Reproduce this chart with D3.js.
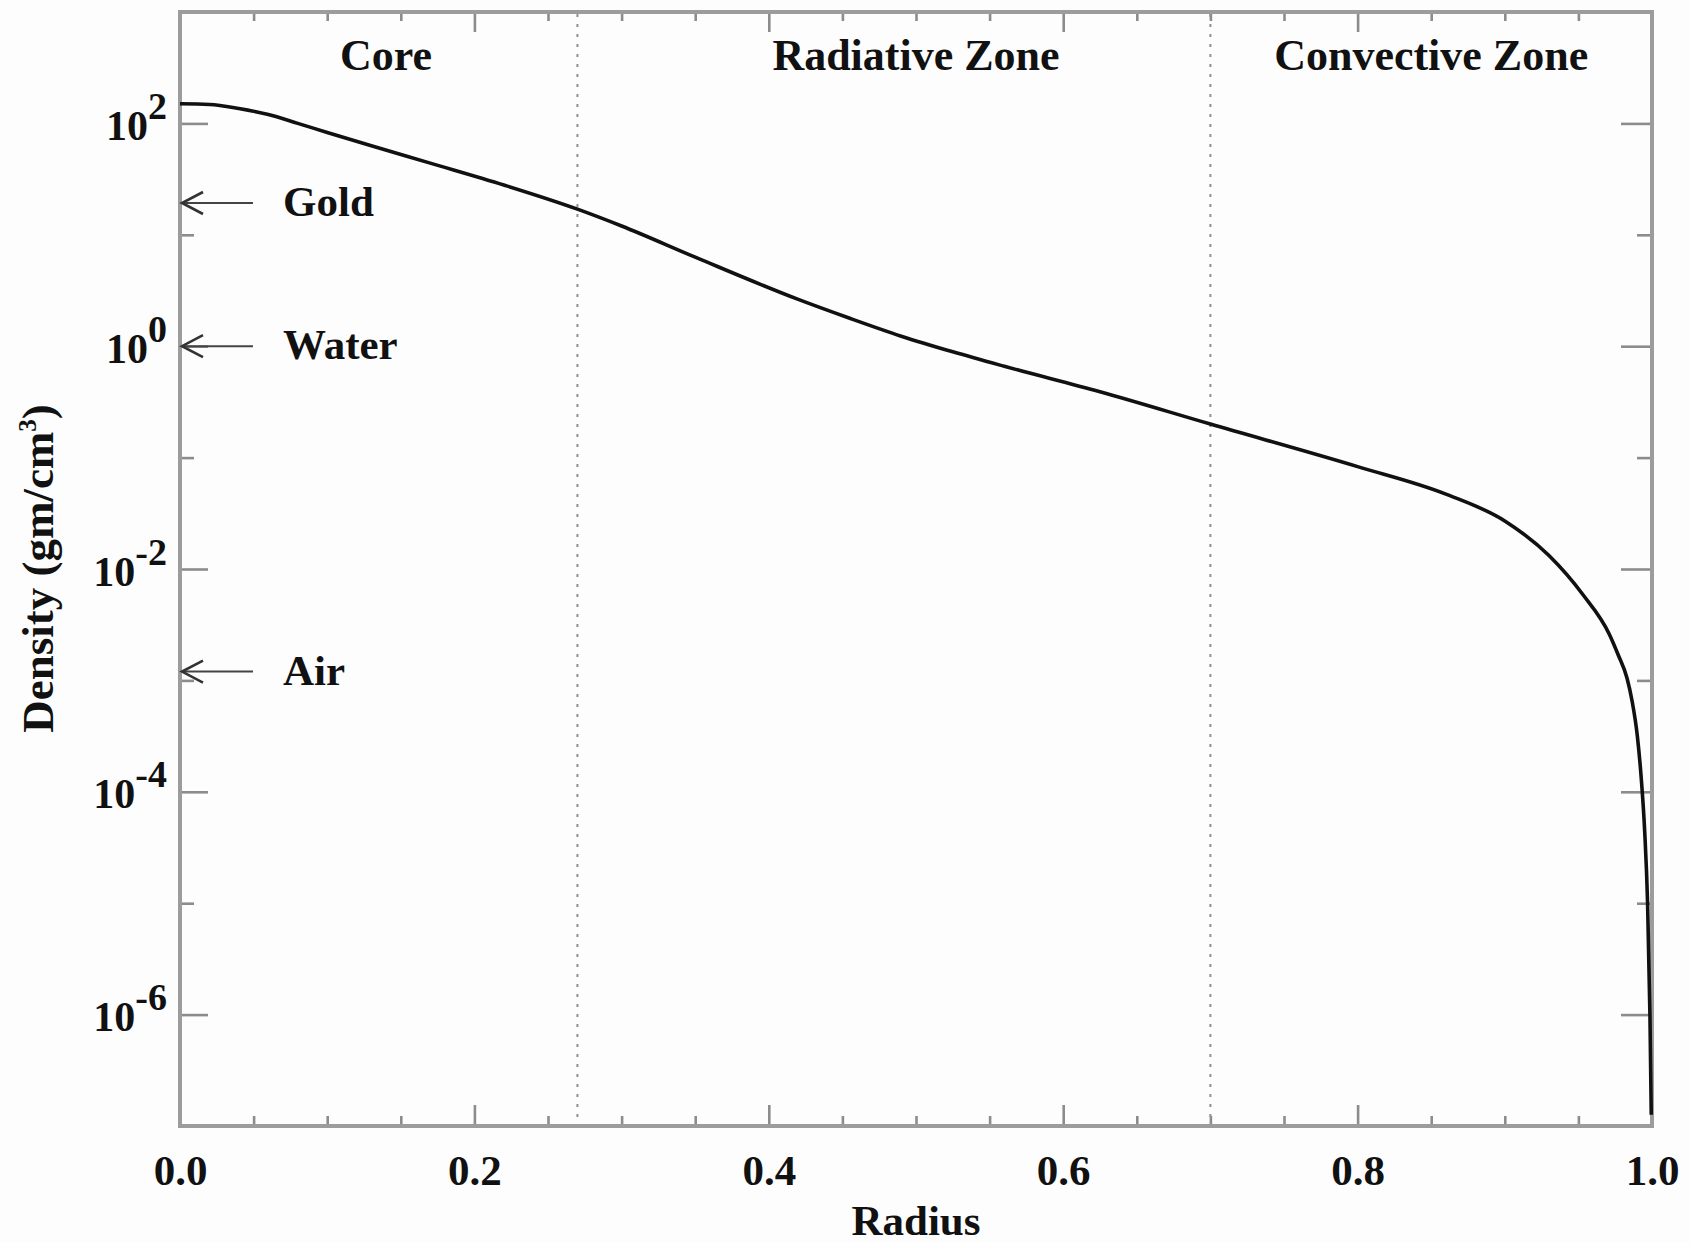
<!DOCTYPE html>
<html>
<head>
<meta charset="utf-8">
<script src="https://cdn.jsdelivr.net/npm/d3@7"></script>
<style>
  html, body { margin: 0; padding: 0; background: #fdfdfd; }
  svg { display: block; }
  text { font-family: "Liberation Serif", "Times New Roman", serif; font-weight: bold; fill: #111; }
</style>
</head>
<body>
<script>
// ---- data ----
const radius = [0, 0.02, 0.04, 0.06, 0.08, 0.10, 0.13, 0.17, 0.22, 0.27, 0.30, 0.35, 0.42, 0.455, 0.49, 0.525, 0.56, 0.625,
                0.70, 0.80, 0.86, 0.90, 0.93, 0.953, 0.971, 0.977, 0.983, 0.9865, 0.990, 0.993, 0.995, 0.997, 0.9986, 0.9995];
const density = [150, 148, 136, 120, 100, 83, 63, 44, 28, 17, 12, 6.3, 2.63, 1.78, 1.23, 0.89, 0.66, 0.39,
                 0.20, 0.083, 0.047, 0.027, 0.0132, 0.0059, 0.0026, 0.0017, 0.00105, 6.5e-4, 3.2e-4, 1.17e-4, 4.5e-5, 1.0e-5, 1.0e-6, 1.26e-7];
const zoneBoundaries = [0.27, 0.70];
const zoneNames = ["Core", "Radiative Zone", "Convective Zone"];
const zoneLabelPos = [0.14, 0.5, 0.85];
const refNames = ["Gold", "Water", "Air"];
const refDensity = [19.3, 1.0, 0.0012];
const xMajorTicks = [0, 0.2, 0.4, 0.6, 0.8, 1.0];
const xTickLabels = ["0.0", "0.2", "0.4", "0.6", "0.8", "1.0"];
const xMinorTicks = [0.05, 0.1, 0.15, 0.25, 0.3, 0.35, 0.45, 0.5, 0.55, 0.65, 0.7, 0.75, 0.85, 0.9, 0.95];
const yMajorTicks = [1e2, 1e0, 1e-2, 1e-4, 1e-6];
const yTickExponents = ["2", "0", "-2", "-4", "-6"];
const yMinorTicks = [1e1, 1e-1, 1e-3, 1e-5];
const xTitle = "Radius";
const yTitle = "Density (gm/cm";

// ---- layout ----
const W = 1690, H = 1243;
const L = 180, R = 1652, T = 12, B = 1126;

const svg = d3.select("body").append("svg").attr("width", W).attr("height", H);

const x = d3.scaleLinear().domain([0, 1]).range([L, R]);
const y = d3.scaleLog().domain([1e-7, 1e3]).range([B, T]);

const tickColor = "#8c8c8c";

function styleAxis(g) {
  g.select(".domain").remove();
  g.selectAll(".tick line").attr("stroke", tickColor).attr("stroke-width", 2.6);
}

// bottom
svg.append("g").attr("transform", `translate(0,${B})`)
  .call(d3.axisBottom(x).tickValues(xMajorTicks).tickSize(-21).tickFormat((d, i) => xTickLabels[i]))
  .call(styleAxis)
  .call(g => g.selectAll("text").attr("y", 59).attr("dy", null)
    .attr("font-size", 43).attr("font-family", "Liberation Serif, serif").attr("font-weight", "bold").attr("fill", "#111"));
svg.append("g").attr("transform", `translate(0,${B})`)
  .call(d3.axisBottom(x).tickValues(xMinorTicks).tickSize(-10).tickFormat(""))
  .call(styleAxis);
// top
svg.append("g").attr("transform", `translate(0,${T})`)
  .call(d3.axisTop(x).tickValues(xMajorTicks).tickSize(-20).tickFormat(""))
  .call(styleAxis);
svg.append("g").attr("transform", `translate(0,${T})`)
  .call(d3.axisTop(x).tickValues(xMinorTicks).tickSize(-9).tickFormat(""))
  .call(styleAxis);
// left
svg.append("g").attr("transform", `translate(${L},0)`)
  .call(d3.axisLeft(y).tickValues(yMajorTicks).tickSize(-28).tickFormat(""))
  .call(styleAxis)
  .call(g => {
    g.selectAll(".tick text").each(function(d, i) {
      const t = d3.select(this).text(null)
        .attr("x", -13).attr("y", 16).attr("dy", null)
        .attr("text-anchor", "end")
        .attr("font-size", 42).attr("font-family", "Liberation Serif, serif")
        .attr("font-weight", "bold").attr("fill", "#111");
      t.append("tspan").text("10");
      t.append("tspan").attr("dy", -21).attr("font-size", 38).text(yTickExponents[i]);
    });
  });
svg.append("g").attr("transform", `translate(${L},0)`)
  .call(d3.axisLeft(y).tickValues(yMinorTicks).tickSize(-14).tickFormat(""))
  .call(styleAxis);
// right
svg.append("g").attr("transform", `translate(${R},0)`)
  .call(d3.axisRight(y).tickValues(yMajorTicks).tickSize(-31).tickFormat(""))
  .call(styleAxis);
svg.append("g").attr("transform", `translate(${R},0)`)
  .call(d3.axisRight(y).tickValues(yMinorTicks).tickSize(-15).tickFormat(""))
  .call(styleAxis);

// frame
svg.append("rect").attr("x", L).attr("y", T).attr("width", R - L).attr("height", B - T)
  .attr("fill", "none").attr("stroke", "#9c9c9c").attr("stroke-width", 4);

// zone boundaries (dotted)
svg.selectAll(".zone-line").data(zoneBoundaries).enter().append("line")
  .attr("x1", d => x(d)).attr("x2", d => x(d))
  .attr("y1", T + 2).attr("y2", B - 2)
  .attr("stroke", "#8f8f8f").attr("stroke-width", 2).attr("stroke-dasharray", "3,7");

// zone labels
svg.selectAll(".zone-label").data(zoneNames).enter().append("text")
  .attr("x", (d, i) => x(zoneLabelPos[i])).attr("y", 70)
  .attr("text-anchor", "middle").attr("font-size", 44).text(d => d);

// density curve
const pts = radius.map((r, i) => [r, density[i]]);
svg.append("path").datum(pts)
  .attr("fill", "none").attr("stroke", "#111").attr("stroke-width", 3.6)
  .attr("stroke-linejoin", "round")
  .attr("d", d3.line().x(d => x(d[0])).y(d => y(d[1])).curve(d3.curveMonotoneX));

// reference arrows
refDensity.forEach((v, i) => {
  const yy = y(v);
  const g = svg.append("g");
  g.append("line").attr("x1", L + 2).attr("x2", L + 73).attr("y1", yy).attr("y2", yy)
    .attr("stroke", "#444").attr("stroke-width", 2);
  g.append("path").attr("d", `M${L + 23},${yy - 11} L${L + 2},${yy} L${L + 23},${yy + 11}`)
    .attr("fill", "none").attr("stroke", "#333").attr("stroke-width", 2.6);
  g.append("text").attr("x", L + 103).attr("y", yy + 13).attr("font-size", 43).text(refNames[i]);
});

// axis titles
svg.append("text").attr("x", x(0.5)).attr("y", 1235).attr("text-anchor", "middle")
  .attr("font-size", 43).text(xTitle);

const yt = svg.append("text")
  .attr("transform", `translate(53,${(404 + 733) / 2}) rotate(-90)`)
  .attr("text-anchor", "middle").attr("font-size", 45);
yt.append("tspan").text(yTitle);
yt.append("tspan").attr("dy", -17).attr("font-size", 25).text("3");
yt.append("tspan").attr("dy", 17).text(")");
</script>
</body>
</html>
